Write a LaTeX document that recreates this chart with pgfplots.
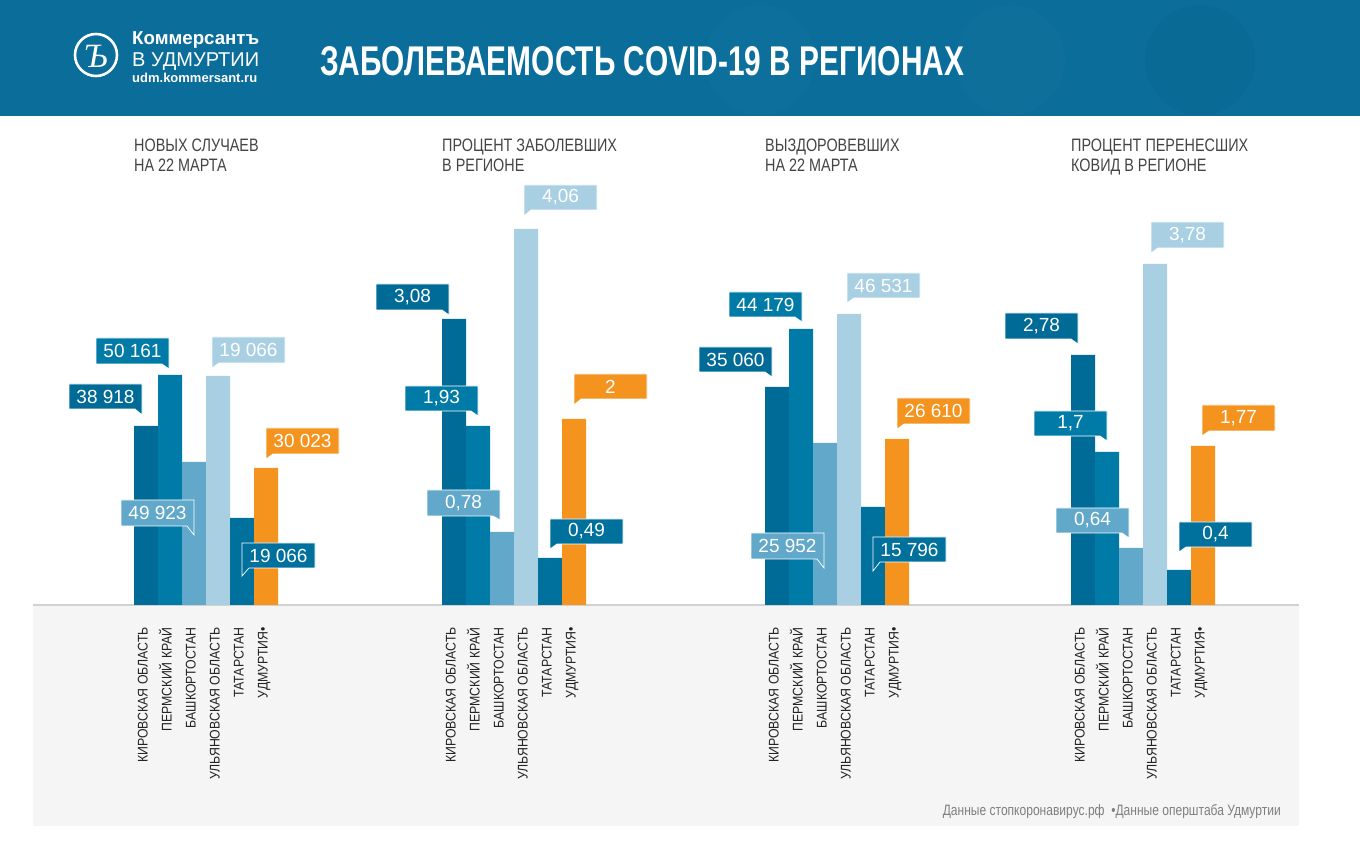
\documentclass[border=0pt]{standalone}
\usepackage{fontspec}
\setmainfont{Liberation Sans}
\newfontfamily\cond[FakeStretch=0.8]{Liberation Sans}
\newfontfamily\lab[FakeStretch=0.88]{Liberation Sans}
\newfontfamily\serifi{Liberation Serif}
\usepackage{graphicx}
\usepackage{pgfplots}
\pgfplotsset{compat=1.18}

\definecolor{hdr}{HTML}{0A6D9A}
\definecolor{kirov}{HTML}{006B97}
\definecolor{perm}{HTML}{007BA8}
\definecolor{bashk}{HTML}{61A8CB}
\definecolor{ulyan}{HTML}{A9CFE3}
\definecolor{tatar}{HTML}{00709D}
\definecolor{udm}{HTML}{F4931E}
\definecolor{panel}{HTML}{F5F5F5}
\definecolor{headtxt}{HTML}{444444}
\definecolor{labtxt}{HTML}{222222}
\definecolor{foottxt}{HTML}{7F7F7F}

% callout with tail at bottom right: x-left, top, bottom, tail tip (pixel rows), colour, text
\newcommand{\calloutR}[6]{%
  \fill[#5, draw=white, line width=0.7pt] (axis cs:#1,605-#2) -- (axis cs:#1+73,605-#2) -- (axis cs:#1+73,605-#4) -- (axis cs:#1+66,605-#3) -- (axis cs:#1,605-#3) -- cycle;
  \node[text=white, inner sep=0pt, font=\fontsize{19pt}{20pt}\selectfont] at (axis cs:#1+36.5,605-#2/2-#3/2) {#6};}
% callout with tail at bottom left
\newcommand{\calloutL}[6]{%
  \fill[#5, draw=white, line width=0.7pt] (axis cs:#1,605-#2) -- (axis cs:#1+73,605-#2) -- (axis cs:#1+73,605-#3) -- (axis cs:#1+7,605-#3) -- (axis cs:#1,605-#4) -- cycle;
  \node[text=white, inner sep=0pt, font=\fontsize{19pt}{20pt}\selectfont] at (axis cs:#1+36.5,605-#2/2-#3/2) {#6};}

\pgfplotsset{mybar/.style={ybar, bar width=24pt, bar shift=0pt, draw=none, fill=#1}}

\begin{document}
\begin{tikzpicture}
\begin{axis}[
  set layers,
  scale only axis, width=1360pt, height=605pt,
  xmin=0, xmax=1360, ymin=0, ymax=605,
  clip=false,
  hide y axis,
  axis line style={draw=none},
  x axis line style={draw=none},
  xtick style={draw=none},
  major tick length=0pt,
  xtick={146,170,194,218,242,266,454,478,502,526,550,574,777,801,825,849,873,897,1083,1107,1131,1155,1179,1203},
  xticklabels={КИРОВСКАЯ ОБЛАСТЬ,ПЕРМСКИЙ КРАЙ,БАШКОРТОСТАН,УЛЬЯНОВСКАЯ ОБЛАСТЬ,ТАТАРСТАН,УДМУРТИЯ•,
               КИРОВСКАЯ ОБЛАСТЬ,ПЕРМСКИЙ КРАЙ,БАШКОРТОСТАН,УЛЬЯНОВСКАЯ ОБЛАСТЬ,ТАТАРСТАН,УДМУРТИЯ•,
               КИРОВСКАЯ ОБЛАСТЬ,ПЕРМСКИЙ КРАЙ,БАШКОРТОСТАН,УЛЬЯНОВСКАЯ ОБЛАСТЬ,ТАТАРСТАН,УДМУРТИЯ•,
               КИРОВСКАЯ ОБЛАСТЬ,ПЕРМСКИЙ КРАЙ,БАШКОРТОСТАН,УЛЬЯНОВСКАЯ ОБЛАСТЬ,ТАТАРСТАН,УДМУРТИЯ•},
  xticklabel style={font=\lab\fontsize{14pt}{14pt}\selectfont, text=labtxt, inner sep=0pt, xshift=1.5pt, yshift=-22pt, rotate=90, anchor=base east},
]
% background, header, panel
\begin{pgfonlayer}{axis background}
\fill[white] (axis cs:0,-259) rectangle (axis cs:1360,605);
\fill[hdr] (axis cs:0,489) rectangle (axis cs:1360,605);
\fill[white, opacity=0.018] (axis cs:1010,545) circle[radius=55pt];
\fill[white, opacity=0.015] (axis cs:760,545) circle[radius=55pt];
\fill[black, opacity=0.02] (axis cs:1200,545) circle[radius=55pt];
\fill[panel] (axis cs:33,-1) rectangle (axis cs:1299,-221);
\draw[black!18, line width=1.2pt] (axis cs:33,0) -- (axis cs:1299,0);
\end{pgfonlayer}

% group headings
\begin{scope}[every node/.style={anchor=base west, inner sep=0pt, text=headtxt, font=\cond\fontsize{18pt}{18pt}\selectfont}]
\node at (axis cs:134,605-152) {НОВЫХ СЛУЧАЕВ};
\node at (axis cs:134,605-172) {НА 22 МАРТА};
\node at (axis cs:442,605-152) {ПРОЦЕНТ ЗАБОЛЕВШИХ};
\node at (axis cs:442,605-172) {В РЕГИОНЕ};
\node at (axis cs:765,605-152) {ВЫЗДОРОВЕВШИХ};
\node at (axis cs:765,605-172) {НА 22 МАРТА};
\node at (axis cs:1071,605-152) {ПРОЦЕНТ ПЕРЕНЕСШИХ};
\node at (axis cs:1071,605-172) {КОВИД В РЕГИОНЕ};
\end{scope}

% bars (heights as drawn in the infographic)
\addplot[mybar=kirov] coordinates {(146,179) (454,286) (777,218) (1083,250)};
\addplot[mybar=perm]  coordinates {(170,230) (478,179) (801,276) (1107,153)};
\addplot[mybar=bashk] coordinates {(194,143) (502,73)  (825,162) (1131,57)};
\addplot[mybar=ulyan] coordinates {(218,229) (526,376) (849,291) (1155,341)};
\addplot[mybar=tatar] coordinates {(242,87)  (550,47)  (873,98)  (1179,35)};
\addplot[mybar=udm]   coordinates {(266,137) (574,186) (897,166) (1203,159)};

% callouts
\calloutR{69}{384}{409}{415}{kirov}{38 918}
\calloutR{96}{338}{364}{369}{perm}{50 161}
\calloutR{121}{500}{526}{535}{bashk}{49 923}
\calloutL{212}{337}{363}{368}{ulyan}{19 066}
\calloutL{242}{543}{568}{576}{tatar}{19 066}
\calloutL{266}{428}{454}{459}{udm}{30 023}

\calloutR{376}{284}{310}{315}{kirov}{3,08}
\calloutR{405}{386}{411}{416}{perm}{1,93}
\calloutR{427}{490}{516}{520}{bashk}{0,78}
\calloutL{524}{185}{210}{216}{ulyan}{4,06}
\calloutL{550}{519}{544}{549}{tatar}{0,49}
\calloutL{574}{374}{399}{405}{udm}{2}

\calloutR{699}{347}{372}{377}{kirov}{35 060}
\calloutR{729}{292}{317}{322}{perm}{44 179}
\calloutR{751}{533}{559}{568}{bashk}{25 952}
\calloutL{847}{273}{298}{303}{ulyan}{46 531}
\calloutL{873}{537}{562}{571}{tatar}{15 796}
\calloutL{897}{398}{424}{429}{udm}{26 610}

\calloutR{1005}{313}{339}{344}{kirov}{2,78}
\calloutR{1034}{411}{436}{441}{perm}{1,7}
\calloutR{1056}{508}{533}{538}{bashk}{0,64}
\calloutL{1151}{222}{248}{253}{ulyan}{3,78}
\calloutL{1179}{522}{547}{552}{tatar}{0,4}
\calloutL{1202}{405}{431}{436}{udm}{1,77}

% title
\node[anchor=south west, inner sep=0pt, text=white] at (axis cs:320,605-76.5)
  {\resizebox{644pt}{29pt}{\cond\bfseries ЗАБОЛЕВАЕМОСТЬ COVID-19 В РЕГИОНАХ}};
% logo
\draw[white, line width=2.6pt] (axis cs:96,550) circle[radius=21pt];
\node[text=white, inner sep=0pt] at (axis cs:96,549)
  {\serifi\itshape\fontsize{34pt}{34pt}\selectfont Ъ};
\node[anchor=base west, inner sep=0pt, text=white] at (axis cs:132,605-45)
  {\resizebox{127pt}{!}{\bfseries Коммерсантъ}};
\node[anchor=base west, inner sep=0pt, text=white] at (axis cs:132,605-66.7)
  {\resizebox{127pt}{!}{В УДМУРТИИ}};
\node[anchor=base west, inner sep=0pt, text=white] at (axis cs:132,605-83)
  {\resizebox{125pt}{!}{\bfseries udm.kommersant.ru}};
% footer
\node[anchor=base east, inner sep=0pt, text=foottxt] at (axis cs:1281,605-815)
  {\resizebox{338pt}{!}{\cond\fontsize{13pt}{13pt}\selectfont Данные стопкоронавирус.рф\ \ •Данные оперштаба Удмуртии}};
\end{axis}
\end{tikzpicture}
\end{document}
